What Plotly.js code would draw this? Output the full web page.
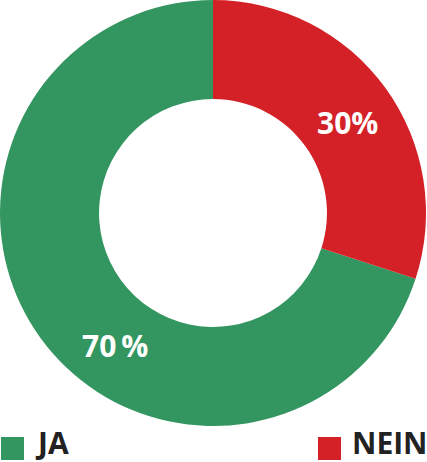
<!DOCTYPE html>
<html><head><meta charset="utf-8">
<script src="https://cdn.plot.ly/plotly-3.0.1.min.js"></script>
<style>html,body{margin:0;padding:0;background:#fff}#c{width:427px;height:462px}</style>
</head><body><div id="c"></div>
<script>
const labels = ['JA', 'NEIN'];
const values = [70, 30];
const valueTexts = ['70\u2009%', '30%'];
const colors = ['#33955F', '#D42027'];

const W = 427, H = 462;
const fontFam = '"Open Sans", "DejaVu Sans", sans-serif';
const total = values.reduce((a, b) => a + b, 0);

const trace = {
  type: 'pie', labels: labels, values: values, sort: false,
  direction: 'clockwise', rotation: values[1] / total * 360, hole: 0.535,
  marker: {colors: colors, line: {width: 0}},
  textinfo: 'none', hoverinfo: 'label+percent', showlegend: false,
  domain: {x: [0, 426 / W], y: [(H - 426) / H, 1]}
};

const labelPos = [[115, 345], [347, 122]];
const annotations = values.map((v, i) => ({
  xref: 'paper', yref: 'paper', x: labelPos[i][0] / W, y: 1 - labelPos[i][1] / H,
  text: '<b>' + valueTexts[i] + '</b>', showarrow: false,
  font: {family: fontFam, size: 30, color: '#ffffff'}, xanchor: 'center', yanchor: 'middle'
}));

const legX = [1, 318];
const shapes = [];
labels.forEach((l, i) => {
  shapes.push({type: 'rect', xref: 'paper', yref: 'paper', line: {width: 0}, fillcolor: colors[i],
    x0: legX[i] / W, x1: (legX[i] + 23) / W, y0: 1 - 460 / H, y1: 1 - 437 / H});
  annotations.push({xref: 'paper', yref: 'paper', x: (legX[i] + 32) / W, y: 0,
    xanchor: 'left', yanchor: 'bottom', yshift: -3, showarrow: false, text: '<b>' + l + '</b>',
    font: {family: fontFam, size: 30, color: '#222222'}});
});

Plotly.newPlot('c', [trace], {
  width: W, height: H, margin: {l: 0, r: 0, t: 0, b: 0},
  paper_bgcolor: '#ffffff', plot_bgcolor: '#ffffff',
  annotations: annotations, shapes: shapes, showlegend: false
}, {displayModeBar: false, staticPlot: true});
</script></body></html>
